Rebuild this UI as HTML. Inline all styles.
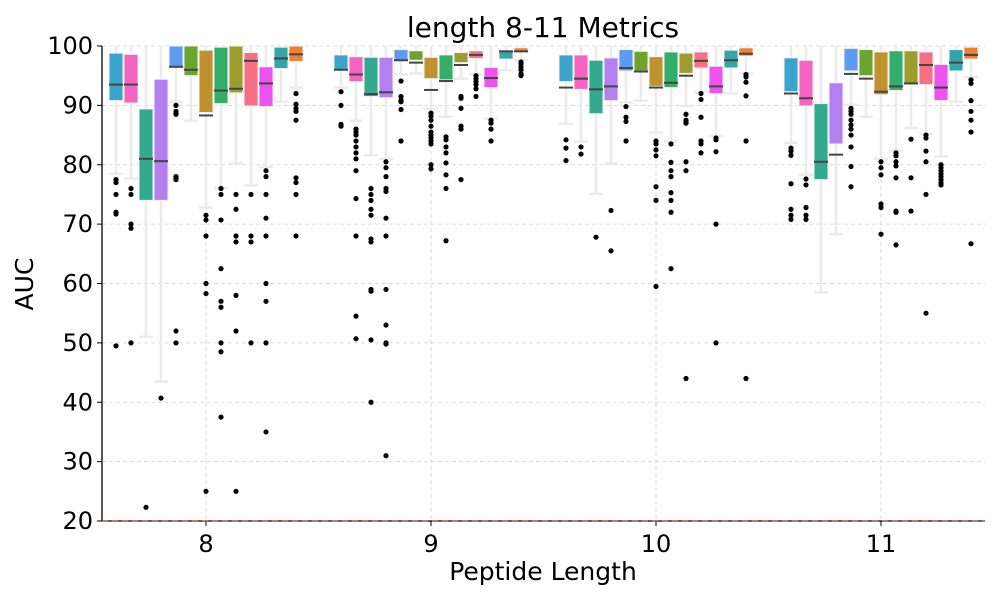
<!DOCTYPE html>
<html><head><meta charset="utf-8"><style>
body{margin:0;background:#fff;font-family:"Liberation Sans","DejaVu Sans",sans-serif}
svg text{font-family:"DejaVu Sans","Liberation Sans",sans-serif}
</style></head><body>
<svg id="chart" width="1000" height="600" xmlns="http://www.w3.org/2000/svg">
<text x="543" y="37" font-size="28" text-anchor="middle">length 8-11 Metrics</text>
<text x="543" y="580" font-size="25" text-anchor="middle">Peptide Length</text>
<text x="33" y="284" font-size="25" text-anchor="middle" transform="rotate(-90 33 284)">AUC</text>
<g id="grid"></g><g id="marks"></g><g id="axes"></g>
</svg>
<script>
const categories = ["8","9","10","11"];
const yTicks = [20,30,40,50,60,70,80,90,100];
const colors = ["#3ba3cc","#f564c0","#33a98e","#b47ff0","#5e9bf0","#6ca52e","#c0922e","#32ae6a","#9d9d2e","#f67084","#ef53ef","#33a6a8","#ef7f32"];
// per group: [q1, median, q3, lowerWhisker, upperWhisker]
const stats8 = [[90.8,93.5,98.8,78.5,100],[90.4,93.5,98.6,77.7,100],[74,81,89.4,51,100],[74,80.6,94.4,43.5,100],[96.4,96.5,100,90.6,100],[95,96,100,87.4,100],[88.8,88.3,99.3,72.8,100],[90.3,92.5,99.8,76.1,100],[92.1,92.8,100,80.2,100],[89.9,97.5,98.9,76.5,100],[89.8,93.7,96.5,79.6,100],[96.2,97.9,99.8,90.6,100],[97.4,98.6,100,93,100]];
const stats9 = [[96,96,98.5,93,100],[94,95.2,98.2,87.4,100],[91.5,91.9,98.1,81.6,100],[91.3,92.2,98.1,81,100],[97.6,97.6,99.4,95.2,100],[97.6,97.2,99.2,95.4,100],[94.5,92.6,98.1,89.4,100],[94.3,94.1,98.5,88.1,100],[97.2,96.8,98.9,94.5,100],[97.9,98.5,99.2,95.2,100],[93,94.6,96.4,87.8,100],[97.8,99.1,99.3,95.9,100],[99,99.1,99.7,97.6,100]];
const stats10 = [[94,93,98.5,86.9,100],[92.7,94.5,98.5,83.9,100],[88.6,92.7,97.6,75.1,100],[90.8,93.2,98,80.2,100],[95.8,96.3,99.4,90.5,100],[95.8,95.7,99.1,90.8,100],[93.2,93,98.2,85.4,100],[93,93.8,99,83.9,100],[95.4,95,98.8,89.9,100],[96.3,97.5,99,92.3,100],[92,93.2,96.6,84.9,100],[96.3,97.6,99.3,92,100],[98.3,98.7,99.7,95.4,100]];
const stats11 = [[92.3,92,98,83.7,100],[89.9,91.2,97.6,78.3,100],[77.5,80.5,90.3,58.5,100],[83.5,81.7,93.8,68.3,100],[95.8,95.3,99.6,90.1,100],[95,94.5,99.4,88.1,100],[91.8,92.3,99,81,100],[92.5,93.2,99.2,82.4,100],[93.5,93.7,99.2,86.2,100],[93.5,96.8,99,85.2,100],[90.8,93,96.9,81.4,100],[95.8,97.2,99.4,90.6,100],[97.8,98.5,99.8,94.8,100]];
const outliers8 = [[77.5,77,75,72,71.7,49.5],[76,75,70,69.3,50],[22.3],[40.7],[90,89,88.7,88.5,78,77.8,77.5,52,50],[],[71.5,70.7,68,60,58.3,25],[76,75,70.7,62.5,57,56,50,48.5,37.5],[75,72.5,68,67,58,52,25],[75,68,67,50],[79,78,75,71,68,60,57,50,35],[],[92,90.2,89.5,89,87.5,77.8,77,75,68]];
const outliers9 = [[92.3,90,86.8,86.5],[86,85.5,85,84,83,82,81,79,74.3,68,54.5,50.7],[76,75,74,72.5,71.5,67.5,67,59,58.7,50.5,40],[80.5,79.5,78,76,75.5,71,68,59,53,50,49.8,31],[94.1,91.5,90.9,90.6,89.3,84],[],[88.7,88.2,87.5,86.5,85.5,85,84.5,84,83.5,80,79.3],[84.7,84.2,83,82,80.3,78.3,76,67.2],[91.5,91.2,89.5,86.5,86,77.5],[95,94.5,94,93.5,92.8,91.5],[87.5,87,86,84],[],[97.3,97,96.5,96,95.3,95]];
const outliers10 = [[84.2,82.8,80.7],[83,81.8],[67.8],[72.3,65.5],[89.8,88,87.3,84],[],[84,83.5,82.5,81.5,76.3,74,59.5],[83.5,80.4,79,78,75.3,74,72,62.5],[88.5,87.5,87.2,87,80.5,79,44],[92,91,88,84,83.5,82],[84.5,84.2,82.2,70,50],[],[95.2,94.8,93.9,91.6,84,44]];
const outliers11 = [[82.8,82.3,81.6,76.8,72.5,71.5,70.8],[77.6,76.6,72.8,71.5,70.8],[],[],[89.5,89,88.5,87.5,86.7,86,85,83,79.7,76.3],[],[80.5,79.5,78.3,73.4,72.8,68.3],[82,81.5,80.5,79.8,77.8,72.2,72,66.5],[84.3,77.8,72.2],[85,84.5,82.3,80.5,75,55],[80,79.5,79,78.5,78,77.5,77,76.6],[],[94.3,93.7,90.8,89,87.5,85.5,66.7]];
const allStats=[stats8,stats9,stats10,stats11];
const allOut=[outliers8,outliers9,outliers10,outliers11];
const NS="http://www.w3.org/2000/svg";
const X0=102,X1=985,Y0=46,Y1=521;
function yScale(v){return Y1-(v-20)*(Y1-Y0)/80;}
function xCat(i){return 206+225*i;}
function hueX(i,j){return xCat(i)+(j-6)*15;}
function mk(tag,attrs,parent){const e=document.createElementNS(NS,tag);for(const k in attrs)e.setAttribute(k,attrs[k]);parent.appendChild(e);return e;}
const grid=document.getElementById('grid'),marks=document.getElementById('marks'),axes=document.getElementById('axes');
yTicks.forEach(t=>{
  const l=mk('line',{x1:X0,x2:X1,y1:yScale(t),y2:yScale(t),stroke:'#d0d0d0','stroke-dasharray':'4,3','stroke-width':0.8},grid);
  
  
  mk('line',{x1:X0-5,x2:X0,y1:yScale(t),y2:yScale(t),stroke:'#000'},axes);
  const tx=mk('text',{x:X0-9,y:yScale(t)+8,'font-size':24,'text-anchor':'end'},axes);
  tx.textContent=t;
  
  
});
categories.forEach((c,i)=>{
  const l=mk('line',{x1:xCat(i),x2:xCat(i),y1:Y0,y2:Y1,stroke:'#d0d0d0','stroke-dasharray':'4,3','stroke-width':0.8},grid);
  
  
  mk('line',{x1:xCat(i),x2:xCat(i),y1:Y1,y2:Y1+5,stroke:'#000'},axes);
  const tx=mk('text',{x:xCat(i),y:Y1+31,'font-size':24,'text-anchor':'middle'},axes);
  tx.textContent=c;
  
  
});
allStats.forEach((grp,i)=>{
  grp.forEach((s,j)=>{
    const cx=hueX(i,j),w=14;
    const g=mk('g',{},marks);
    
    
    const [q1,med,q3,lo,hi]=s;
    const bt=Math.max(q1,q3),bb=Math.min(q1,q3);
    mk('line',{x1:cx,x2:cx,y1:yScale(hi),y2:yScale(bt),stroke:'#ebebeb','stroke-width':2.5},g);
    mk('line',{x1:cx,x2:cx,y1:yScale(bb),y2:yScale(lo),stroke:'#ebebeb','stroke-width':2.5},g);
    mk('line',{x1:cx-w/2,x2:cx+w/2,y1:yScale(lo),y2:yScale(lo),stroke:'#ebebeb','stroke-width':2.5},g);
    mk('rect',{x:cx-w/2,y:yScale(bt),width:w,height:Math.max(yScale(bb)-yScale(bt),0.5),fill:colors[j],stroke:'#f2f2f2','stroke-width':1},g);
    mk('line',{x1:cx-w/2,x2:cx+w/2,y1:yScale(med),y2:yScale(med),stroke:'#444','stroke-width':2},g);
    allOut[i][j].forEach(v=>{
      const d=mk('circle',{cx:cx,cy:yScale(v),r:2.6,fill:'#000'},g);
      
      
    });
  });
});
const ls=mk('line',{x1:X0,x2:X0,y1:Y0,y2:Y1,stroke:'#000','stroke-width':1.3},axes);


const bs=mk('line',{x1:X0,x2:X1,y1:Y1,y2:Y1,stroke:'#000','stroke-width':1.3},axes);


const rl=mk('line',{x1:X0,x2:X1,y1:Y1,y2:Y1,stroke:'#d62728','stroke-width':1,'stroke-dasharray':'6,4'},axes);


</script>
</body></html>
